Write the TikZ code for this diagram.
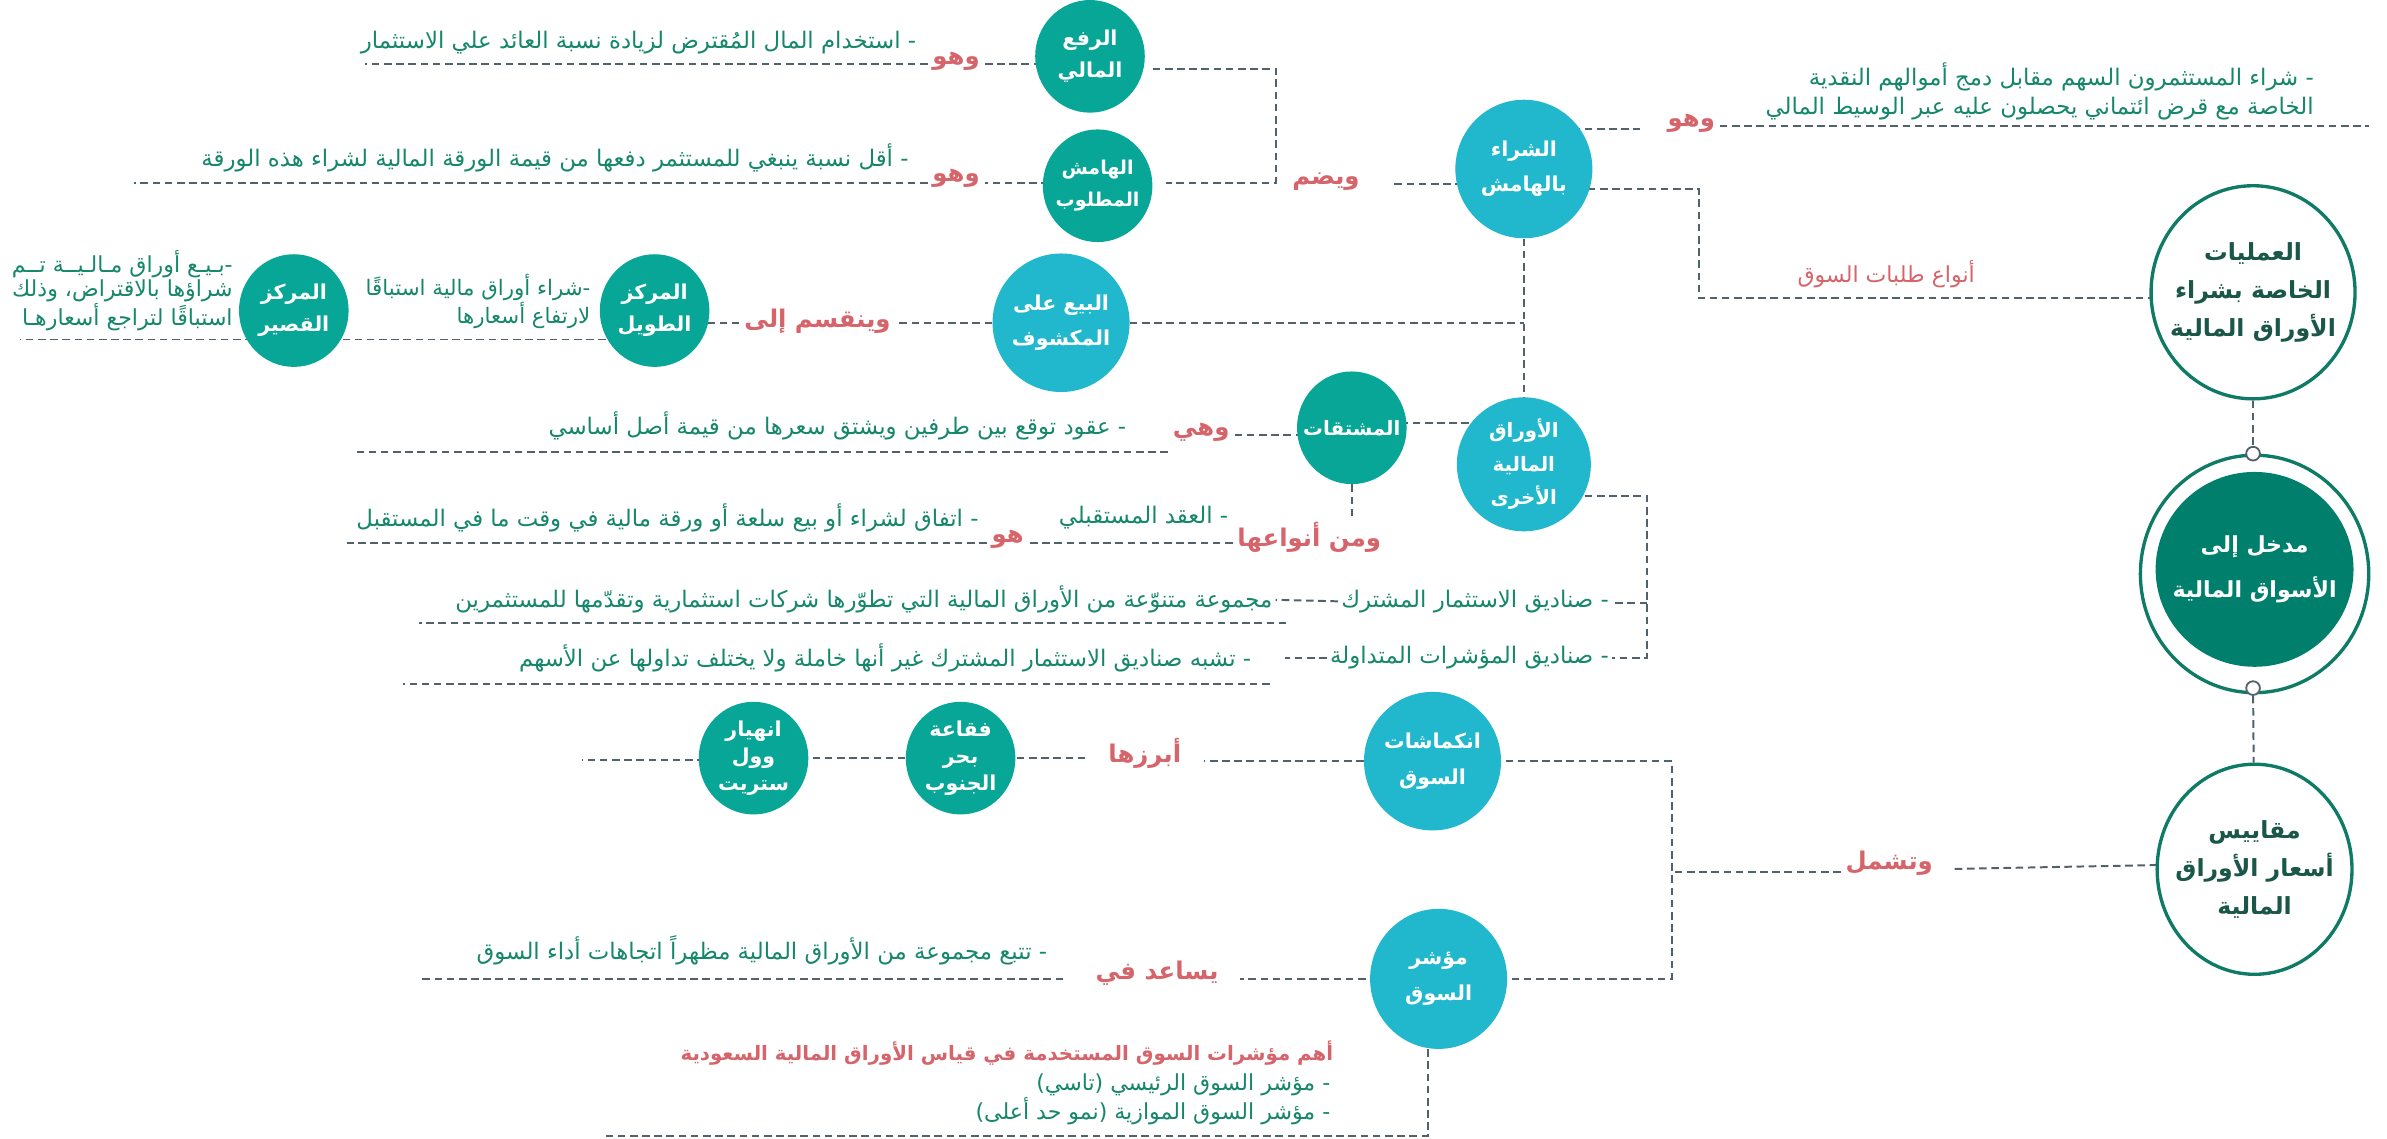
\documentclass[tikz,border=0pt]{standalone}
\usepackage{fontspec}
\newfontfamily\arfont[Script=Arabic]{DejaVu Sans}
\TeXXeTstate=1
\usetikzlibrary{shapes.geometric}
\pgfdeclarelayer{bg}
\pgfsetlayers{bg,main}
\newcommand\myar[1]{\beginR #1\endR}
\definecolor{tealc}{HTML}{08A696}
\definecolor{bluec}{HTML}{21B8CD}
\definecolor{mainc}{HTML}{007F6C}
\definecolor{outc}{HTML}{0F7B67}
\definecolor{outtxt}{HTML}{1B5748}
\definecolor{redc}{HTML}{D6646B}
\definecolor{bodyc}{HTML}{17876C}
\definecolor{lnc}{HTML}{52626C}
\tikzset{
 dl/.style={draw=lnc, line width=1.3pt, dash pattern=on 5pt off 3pt},
 tn/.style={ellipse, fill=tealc, minimum width=72pt, minimum height=74pt, inner sep=0pt},
 bn/.style={ellipse, fill=bluec, minimum width=90pt, minimum height=91pt, inner sep=0pt},
 ntx/.style={text=white, font=\arfont\bfseries\fontsize{13.5}{21}\selectfont, align=center, inner sep=0pt},
 bigtx/.style={text=outtxt, font=\arfont\bfseries\fontsize{15.5}{25}\selectfont, align=center, inner sep=0pt},
 outl/.style={ellipse, draw=outc, line width=2.2pt, fill=white, inner sep=0pt},
 bt/.style={text=bodyc, font=\arfont\fontsize{15}{19}\selectfont, align=right, anchor=east, inner sep=2pt},
 rl/.style={text=redc, font=\arfont\bfseries\fontsize{16}{20}\selectfont, inner sep=3pt},
 smc/.style={circle, draw=lnc, line width=1.2pt, fill=white, minimum size=9pt, inner sep=0pt}
}
\begin{document}
\begin{tikzpicture}[x=1pt,y=-1pt]
\useasboundingbox (0,0) rectangle (1568,748);
% ---------- right spine ----------
\node[outl, minimum width=134pt, minimum height=140pt] (E1) at (1480,192) {};
\node[bigtx] (E1t) at (E1) {\myar{العمليات}\\\myar{الخاصة بشراء}\\\myar{الأوراق المالية}};
\node[outl, minimum width=150pt, minimum height=156pt] (Mo) at (1481,377) {};
\node[ellipse, fill=mainc, minimum width=130pt, minimum height=128pt, inner sep=0pt] (Mi) at (1481,374) {};
\node[ntx, font=\arfont\bfseries\fontsize{14.5}{30}\selectfont] (Mt) at (Mi) {\myar{مدخل إلى}\\\myar{الأسواق المالية}};
\node[smc] (sc1) at (1480,298) {};
\node[smc] (sc2) at (1480,452) {};
\node[outl, minimum width=128pt, minimum height=138pt] (E3) at (1481,571) {};
\node[bigtx] (E3t) at (E3) {\myar{مقاييس}\\\myar{أسعار الأوراق}\\\myar{المالية}};
% ---------- circles ----------
\node[tn] (A) at (716,37) {};
\node[ntx] (At) at (A) {\myar{الرفع}\\\myar{المالي}};
\node[tn] (B) at (721,122) {};
\node[ntx, font=\arfont\bfseries\fontsize{12.5}{21}\selectfont] (Bt) at (B) {\myar{الهامش}\\\myar{المطلوب}};
\node[bn] (C) at (1001,111) {};
\node[ntx, font=\arfont\bfseries\fontsize{13.5}{23}\selectfont] (Ct) at (C) {\myar{الشراء}\\\myar{بالهامش}};
\node[bn] (D) at (697,212) {};
\node[ntx, font=\arfont\bfseries\fontsize{13.5}{23}\selectfont] (Dt) at (D) {\myar{البيع على}\\\myar{المكشوف}};
\node[tn] (E) at (430,204) {};
\node[ntx] (Et) at (E) {\myar{المركز}\\\myar{الطويل}};
\node[tn] (F) at (193,204) {};
\node[ntx] (Ft) at (F) {\myar{المركز}\\\myar{القصير}};
\node[tn] (G) at (888,281) {};
\node[ntx, font=\arfont\bfseries\fontsize{13}{21}\selectfont] (Gt) at (G) {\myar{المشتقات}};
\node[bn, minimum width=88pt, minimum height=88pt] (H) at (1001,305) {};
\node[ntx, font=\arfont\bfseries\fontsize{13}{22}\selectfont] (Ht) at (H) {\myar{الأوراق}\\\myar{المالية}\\\myar{الأخرى}};
\node[bn] (I) at (941,500) {};
\node[ntx, font=\arfont\bfseries\fontsize{13.5}{24}\selectfont] (It) at (I) {\myar{انكماشات}\\\myar{السوق}};
\node[tn] (J) at (631,498) {};
\node[ntx, font=\arfont\bfseries\fontsize{13.5}{18}\selectfont] (Jt) at (J) {\myar{فقاعة}\\\myar{بحر}\\\myar{الجنوب}};
\node[tn] (K) at (495,498) {};
\node[ntx, font=\arfont\bfseries\fontsize{13.5}{18}\selectfont] (Kt) at (K) {\myar{انهيار}\\\myar{وول}\\\myar{ستريت}};
\node[bn, minimum height=92pt] (L) at (945,643) {};
\node[ntx, font=\arfont\bfseries\fontsize{13.5}{24}\selectfont] (Lt) at (L) {\myar{مؤشر}\\\myar{السوق}};
% ---------- red labels ----------
\node[rl] (R1) at (628,40) {\myar{وهو}};
\node[rl] (R2) at (628,117) {\myar{وهو}};
\node[rl] (R3) at (1111,81) {\myar{وهو}};
\node[rl] (R4) at (871,119) {\myar{ويضم}};
\node[rl, font=\arfont\fontsize{14.5}{16}\selectfont] (R5) at (1239,180) {\myar{أنواع طلبات السوق}};
\node[rl] (R6) at (537,211) {\myar{وينقسم إلى}};
\node[rl] (R7) at (789,284) {\myar{وهي}};
\node[rl] (R8) at (860,353) {\myar{ومن أنواعها}};
\node[rl] (R9) at (662,354) {\myar{هو}};
\node[rl] (R10) at (752,495) {\myar{أبرزها}};
\node[rl] (R11) at (1241,567) {\myar{وتشمل}};
\node[rl] (R12) at (760,639) {\myar{يساعد في}};
\node[rl, font=\arfont\bfseries\fontsize{13}{16}\selectfont, anchor=east, inner sep=0pt] (T14) at (876,692) {\myar{أهم مؤشرات السوق المستخدمة في قياس الأوراق المالية السعودية}};
% ---------- body texts ----------
\node[bt] (T1) at (604,28) {\myar{- استخدام المال المُقترض لزيادة نسبة العائد علي الاستثمار}};
\node[bt] (T2) at (599,104) {\myar{- أقل نسبة ينبغي للمستثمر دفعها من قيمة الورقة المالية لشراء هذه الورقة}};
\node[bt] (T3) at (1522,60) {\myar{- شراء المستثمرون السهم مقابل دمج أموالهم النقدية}\\\myar{الخاصة مع قرض ائتماني يحصلون عليه عبر الوسيط المالي}};
\node[bt, font=\arfont\fontsize{14}{18}\selectfont] (T4) at (390,198) {\myar{-شراء أوراق مالية استباقًا}\\\myar{لارتفاع أسعارها}};
\node[bt, font=\arfont\fontsize{14.5}{15.5}\selectfont] (T5) at (155,191) {\myar{-بـيـع أوراق مـالـيــة تــم}\\\myar{شراؤها بالاقتراض، وذلك}\\\myar{استباقًا لتراجع أسعارهـا}};
\node[bt] (T6) at (742,280) {\myar{- عقود توقع بين طرفين ويشتق سعرها من قيمة أصل أساسي}};
\node[bt] (T7) at (809,340) {\myar{- العقد المستقبلي}};
\node[bt] (T8) at (645,340) {\myar{- اتفاق لشراء أو بيع سلعة أو ورقة مالية في وقت ما في المستقبل}};
\node[bt] (T9) at (1059,395) {\myar{- صناديق الاستثمار المشترك}};
\node[bt] (T10) at (838,394) {\myar{مجموعة متنوّعة من الأوراق المالية التي تطوّرها شركات استثمارية وتقدّمها للمستثمرين}};
\node[bt] (T11) at (1059,432) {\myar{- صناديق المؤشرات المتداولة}};
\node[bt] (T12) at (824,432) {\myar{- تشبه صناديق الاستثمار المشترك غير أنها خاملة ولا يختلف تداولها عن الأسهم}};
\node[bt] (T13) at (690,624) {\myar{- تتبع مجموعة من الأوراق المالية مظهراً اتجاهات أداء السوق}};
\node[bt, font=\arfont\fontsize{14.5}{17}\selectfont] (T15) at (876,722) {\myar{- مؤشر السوق الرئيسي (تاسي)}\\\myar{- مؤشر السوق الموازية (نمو حد أعلى)}};
% ---------- free ends ----------
\coordinate (k1) at (1116,160);
\coordinate (cR) at (1077,85);
\coordinate (cRR) at (1556,83);
\coordinate (c4) at (914,121);
\coordinate (brk) at (838,80);
\coordinate (a1) at (240,42);
\coordinate (b1) at (88,120);
\coordinate (f1) at (13,223);
\coordinate (g2) at (234,297);
\coordinate (h1) at (228,357);
\coordinate (hb1) at (1082,396);
\coordinate (hb2) at (1082,432);
\coordinate (u1) at (845,409);
\coordinate (u2) at (275,409);
\coordinate (u3) at (834,449);
\coordinate (u4) at (265,449);
\coordinate (bk) at (1098,573);
\coordinate (k2) at (382,499);
\coordinate (l3) at (275,643);
\coordinate (l2) at (938,746);
\coordinate (l1) at (395,746);
% ---------- connectors ----------
\begin{pgfonlayer}{bg}
\fill[white] (0,0) rectangle (1568,748);
\draw[dl] (E1) -- (sc1);
\draw[dl] (sc2) -- (E3);
\draw[dl] (E1 |- 0,196) -| (k1) |- (C |- 0,124);
\draw[dl] (C |- 0,85) -- (cR);
\draw[dl] (R3.east |- 0,83) -- (cRR);
\draw[dl] (C |- 0,121) -- (c4);
\draw[dl, shorten <=5pt, shorten >=9pt] (A.east |- 0,45) -| (brk) |- (B.east |- 0,120);
\draw[dl] (A |- 0,42) -- (R1.east |- 0,42);
\draw[dl] (R1.west |- 0,42) -- (a1);
\draw[dl] (B |- 0,120) -- (R2.east |- 0,120);
\draw[dl] (R2.west |- 0,120) -- (b1);
\draw[dl] (C) -- (H);
\draw[dl] (D) -- (D -| C);
\draw[dl] (D) -- (R6.east |- D);
\draw[dl] (R6.west |- D) -- (E |- D);
\draw[dl] (E |- 0,223) -- (f1);
\draw[dl] (G |- 0,278) -- (H |- 0,278);
\draw[dl] (G |- 0,286) -- (R7.east |- 0,286);
\draw[dl] (R7.west |- 0,297) -- (g2);
\draw[dl] (G) -- (G |- R8.north);
\draw[dl] (R8.west |- 0,357) -- (R9.east |- 0,357);
\draw[dl] (R9.west |- 0,357) -- (h1);
\draw[dl] (H |- 0,326) -| (hb2) -- (T11.east |- hb2);
\draw[dl] (hb1) -- (T9.east |- hb1);
\draw[dl] (T9.west) -- (T10.east);
\draw[dl] (u1) -- (u2);
\draw[dl, shorten >=20pt] (T11.west) -- (T12.east);
\draw[dl] (u3) -- (u4);
\draw[dl, shorten >=10pt] (E3 |- 0,567) -- (R11.east |- 0,571);
\draw[dl] (I |- 0,500) -| (bk) |- (L |- 0,643);
\draw[dl] (R11.west |- bk) -- (bk);
\draw[dl, shorten >=12pt] (I) -- (R10.east |- I);
\draw[dl, shorten <=12pt] (R10.west |- J) -- (J);
\draw[dl] (J) -- (K);
\draw[dl] (K |- k2) -- (k2);
\draw[dl, shorten >=11pt] (L |- 0,643) -- (R12.east |- 0,643);
\draw[dl, shorten <=18pt] (R12.west |- 0,643) -- (l3);
\draw[dl] (L.south -| l2) -- (l2) -- (l1);
\end{pgfonlayer}
\end{tikzpicture}
\end{document}
